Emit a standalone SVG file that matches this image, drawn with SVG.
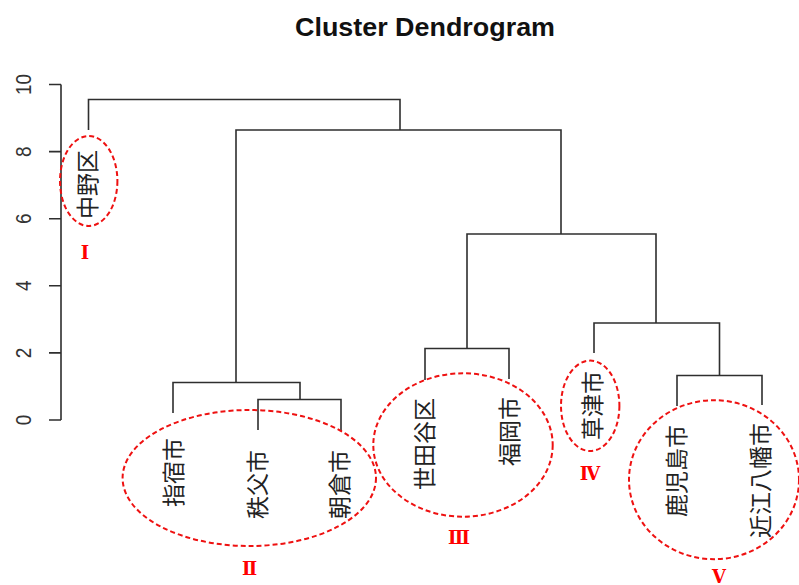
<svg xmlns="http://www.w3.org/2000/svg" width="799" height="585" viewBox="0 0 799 585">
  <style>
    .title { font-family: "Liberation Sans", Arial, sans-serif; font-weight: bold; font-size: 25px; fill: #111; }
    .tick { font-family: "Liberation Sans", Arial, sans-serif; font-size: 19px; fill: #333; }
    .axis, .branch { fill: none; stroke: #2e2e2e; stroke-width: 1.6; }
    .leaf { font-family: "Noto Sans CJK JP", "Noto Sans CJK SC", sans-serif; font-size: 23px; fill: #222; }
    .ring { fill: none; stroke: #ee1111; stroke-width: 2; stroke-dasharray: 5 3; }
    .num { font-family: "DejaVu Serif", "Liberation Serif", "Noto Sans CJK JP", serif; font-weight: bold; font-size: 18px; fill: #ff0000; }
  </style>

  <rect width="799" height="585" fill="#ffffff"/>

  <text class="title" x="425" y="36" text-anchor="middle" textLength="260" lengthAdjust="spacingAndGlyphs">Cluster Dendrogram</text>

  <!-- height axis -->
  <g id="axis">
    <path class="axis" d="M61 84.5V420M49 84.5H61M49 151.6H61M49 218.7H61M49 285.8H61M49 352.9H61M49 420H61"/>
    <g class="tick" text-anchor="middle" dominant-baseline="central">
      <text transform="translate(23.5,84.5) scale(1.12,1) rotate(-90)">10</text>
      <text transform="translate(23.5,151.6) scale(1.12,1) rotate(-90)">8</text>
      <text transform="translate(23.5,218.7) scale(1.12,1) rotate(-90)">6</text>
      <text transform="translate(23.5,285.8) scale(1.12,1) rotate(-90)">4</text>
      <text transform="translate(23.5,352.9) scale(1.12,1) rotate(-90)">2</text>
      <text transform="translate(23.5,420) scale(1.12,1) rotate(-90)">0</text>
    </g>
  </g>

  <!-- dendrogram branches -->
  <g id="connectors">
    <path class="branch" d="M88.5 130V99.5H400V130"/>
    <path class="branch" d="M236 382.5V130H561V234"/>
    <path class="branch" d="M173 413V382.5H300V399.5"/>
    <path class="branch" d="M258 430V399.5H341V431"/>
    <path class="branch" d="M467 348.5V234H656V323"/>
    <path class="branch" d="M425 380V348.5H509V379"/>
    <path class="branch" d="M594 353V323H719.5V375.5"/>
    <path class="branch" d="M677 406V375.5H762V405"/>
  </g>

  <!-- leaves -->
  <g id="leaf-nakano"><text class="leaf" text-anchor="end" dominant-baseline="central" transform="translate(86,150) rotate(-90)">中野区</text></g>
  <g id="leaf-ibusuki"><text class="leaf" text-anchor="end" dominant-baseline="central" transform="translate(171.5,438) rotate(-90)">指宿市</text></g>
  <g id="leaf-chichibu"><text class="leaf" text-anchor="end" dominant-baseline="central" transform="translate(255.5,450) rotate(-90)">秩父市</text></g>
  <g id="leaf-asakura"><text class="leaf" text-anchor="end" dominant-baseline="central" transform="translate(338,450) rotate(-90)">朝倉市</text></g>
  <g id="leaf-setagaya"><text class="leaf" text-anchor="end" dominant-baseline="central" transform="translate(422.5,398) rotate(-90)">世田谷区</text></g>
  <g id="leaf-fukuoka"><text class="leaf" text-anchor="end" dominant-baseline="central" transform="translate(507.5,397) rotate(-90)">福岡市</text></g>
  <g id="leaf-kusatsu"><text class="leaf" text-anchor="end" dominant-baseline="central" transform="translate(591,371) rotate(-90)">草津市</text></g>
  <g id="leaf-kagoshima"><text class="leaf" text-anchor="end" dominant-baseline="central" transform="translate(675,425) rotate(-90)">鹿児島市</text></g>
  <g id="leaf-omihachiman"><text class="leaf" text-anchor="end" dominant-baseline="central" transform="translate(759,423) rotate(-90)">近江八幡市</text></g>

  <!-- cluster groupings -->
  <g id="cluster-1">
    <ellipse class="ring" cx="88.7" cy="181" rx="28.7" ry="45"/>
    <text class="num" x="85" y="259" text-anchor="middle">Ⅰ</text>
  </g>
  <g id="cluster-2">
    <ellipse class="ring" cx="249.3" cy="478" rx="126.7" ry="68"/>
    <text class="num" x="249.5" y="575" text-anchor="middle">Ⅱ</text>
  </g>
  <g id="cluster-3">
    <ellipse class="ring" cx="463" cy="445" rx="89.7" ry="71.7"/>
    <text class="num" x="459" y="544" text-anchor="middle">Ⅲ</text>
  </g>
  <g id="cluster-4">
    <ellipse class="ring" cx="590.2" cy="405.8" rx="29.2" ry="45.2"/>
    <text class="num" x="590" y="480" text-anchor="middle">Ⅳ</text>
  </g>
  <g id="cluster-5">
    <ellipse class="ring" cx="714" cy="479.7" rx="85" ry="79.5"/>
    <text class="num" x="719" y="583" text-anchor="middle">Ⅴ</text>
  </g>
</svg>
